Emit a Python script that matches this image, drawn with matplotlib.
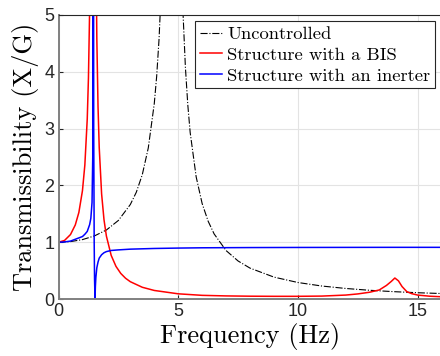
import matplotlib
matplotlib.use('Agg')
import matplotlib.pyplot as plt
import numpy as np

# Uncontrolled structure
f_unc = [0, 0.5, 1, 1.5, 2, 2.5, 3, 3.25, 3.5, 3.75, 4.0, 4.1, 4.2, 4.3, 4.4, 4.5, 4.6, 4.75,
         4.9, 5.0, 5.1, 5.2, 5.3, 5.4, 5.5, 5.75, 6.0, 6.25, 6.5, 7.0, 7.5, 8.0, 9.0, 10, 11,
         12, 13, 14, 15, 16]
t_unc = [1.0, 1.011, 1.046, 1.111, 1.215, 1.383, 1.664, 1.88, 2.19, 2.66, 3.44, 3.92, 4.58,
         5.54, 7.05, 9.7, 16, 60, 15.6, 9.26, 6.55, 5.04, 4.08, 3.42, 2.93, 2.15, 1.68, 1.37,
         1.146, 0.853, 0.670, 0.544, 0.386, 0.291, 0.229, 0.186, 0.154, 0.130, 0.111, 0.097]

# Structure with a BIS
f_bis = [0, 0.25, 0.5, 0.7, 0.85, 1.0, 1.1, 1.2, 1.25, 1.3, 1.35, 1.45, 1.55, 1.6, 1.65, 1.7,
         1.8, 1.9, 2.0, 2.2, 2.4, 2.6, 2.8, 3.0, 3.5, 4.0, 5.0, 6.0, 7.0, 8.0, 9.0, 10, 11, 12,
         12.5, 13.0, 13.4, 13.7, 13.9, 14.05, 14.2, 14.35, 14.55, 14.75, 15.0, 15.5, 16]
t_bis = [1.0, 1.031, 1.135, 1.304, 1.524, 1.908, 2.36, 3.17, 3.89, 5.10, 7.5, 60, 7.0, 4.59,
         3.39, 2.67, 1.85, 1.395, 1.108, 0.768, 0.575, 0.451, 0.366, 0.305, 0.207, 0.151, 0.092,
         0.065, 0.055, 0.050, 0.048, 0.048, 0.052, 0.07, 0.09, 0.12, 0.16, 0.24, 0.31, 0.37,
         0.32, 0.22, 0.13, 0.095, 0.07, 0.05, 0.04]

# Structure with an inerter
f_inr = [0, 0.25, 0.5, 0.75, 1.0, 1.1, 1.2, 1.3, 1.35, 1.4, 1.43, 1.45, 1.46, 1.47, 1.49,
         1.505, 1.525, 1.54, 1.56, 1.6, 1.65, 1.7, 1.8, 1.9, 2.0, 2.2, 2.5, 3.0, 4.0, 5.0, 6.0,
         8.0, 10, 12, 14, 16]
t_inr = [1.0, 1.005, 1.02, 1.06, 1.10, 1.14, 1.19, 1.31, 1.42, 1.7, 2.5, 60, 8.0, 3.0, 1.0,
         0.35, 0.0, 0.22, 0.38, 0.55, 0.65, 0.72, 0.78, 0.815, 0.835, 0.855, 0.865, 0.878, 0.89,
         0.897, 0.902, 0.906, 0.908, 0.909, 0.91, 0.91]

labels = ['Uncontrolled', 'Structure with a BIS', 'Structure with an inerter']

fig = plt.figure(figsize=(4.4, 3.56), dpi=100)
ax = fig.add_axes([0.133, 0.160, 0.8705, 0.798])

ax.plot(f_unc, t_unc, color='black', lw=0.8, ls='-.', label=labels[0])
ax.plot(f_bis, t_bis, color='red', lw=1.1, label=labels[1])
ax.plot(f_inr, t_inr, color='blue', lw=1.1, label=labels[2])

ax.set_xlim(0, 16)
ax.set_ylim(0, 5)
ax.set_xticks([0, 5, 10, 15])
ax.set_yticks([0, 1, 2, 3, 4, 5])
ax.grid(True, color='#e3e3e3', lw=0.8)
ax.set_axisbelow(True)
ax.tick_params(direction='in', length=3, color='#262626', labelsize=13, pad=3)
for lab in ax.get_xticklabels() + ax.get_yticklabels():
    lab.set_family('Liberation Sans')
    lab.set_color('#262626')
for sp in ax.spines.values():
    sp.set_color('#262626')
    sp.set_linewidth(0.8)
ax.spines['left'].set_color('#808080')
ax.spines['bottom'].set_color('#808080')
ax.spines['left'].set_linewidth(1.4)
ax.spines['bottom'].set_linewidth(1.4)

ax.set_xlabel('Frequency (Hz)', family='cmr10', fontsize=19, labelpad=2)
ax.set_ylabel('Transmissibility (X/G)', family='cmr10', fontsize=19, labelpad=4)

leg = ax.legend(loc='upper left', bbox_to_anchor=(0.356, 0.977), prop={'family': 'cmr10', 'size': 13.4},
                fancybox=False, framealpha=1, edgecolor='#262626', handlelength=1.2,
                handletextpad=0.3, borderpad=0.25, labelspacing=0.25, borderaxespad=0)
leg.get_frame().set_linewidth(0.8)

fig.savefig('out.png', dpi=100)
